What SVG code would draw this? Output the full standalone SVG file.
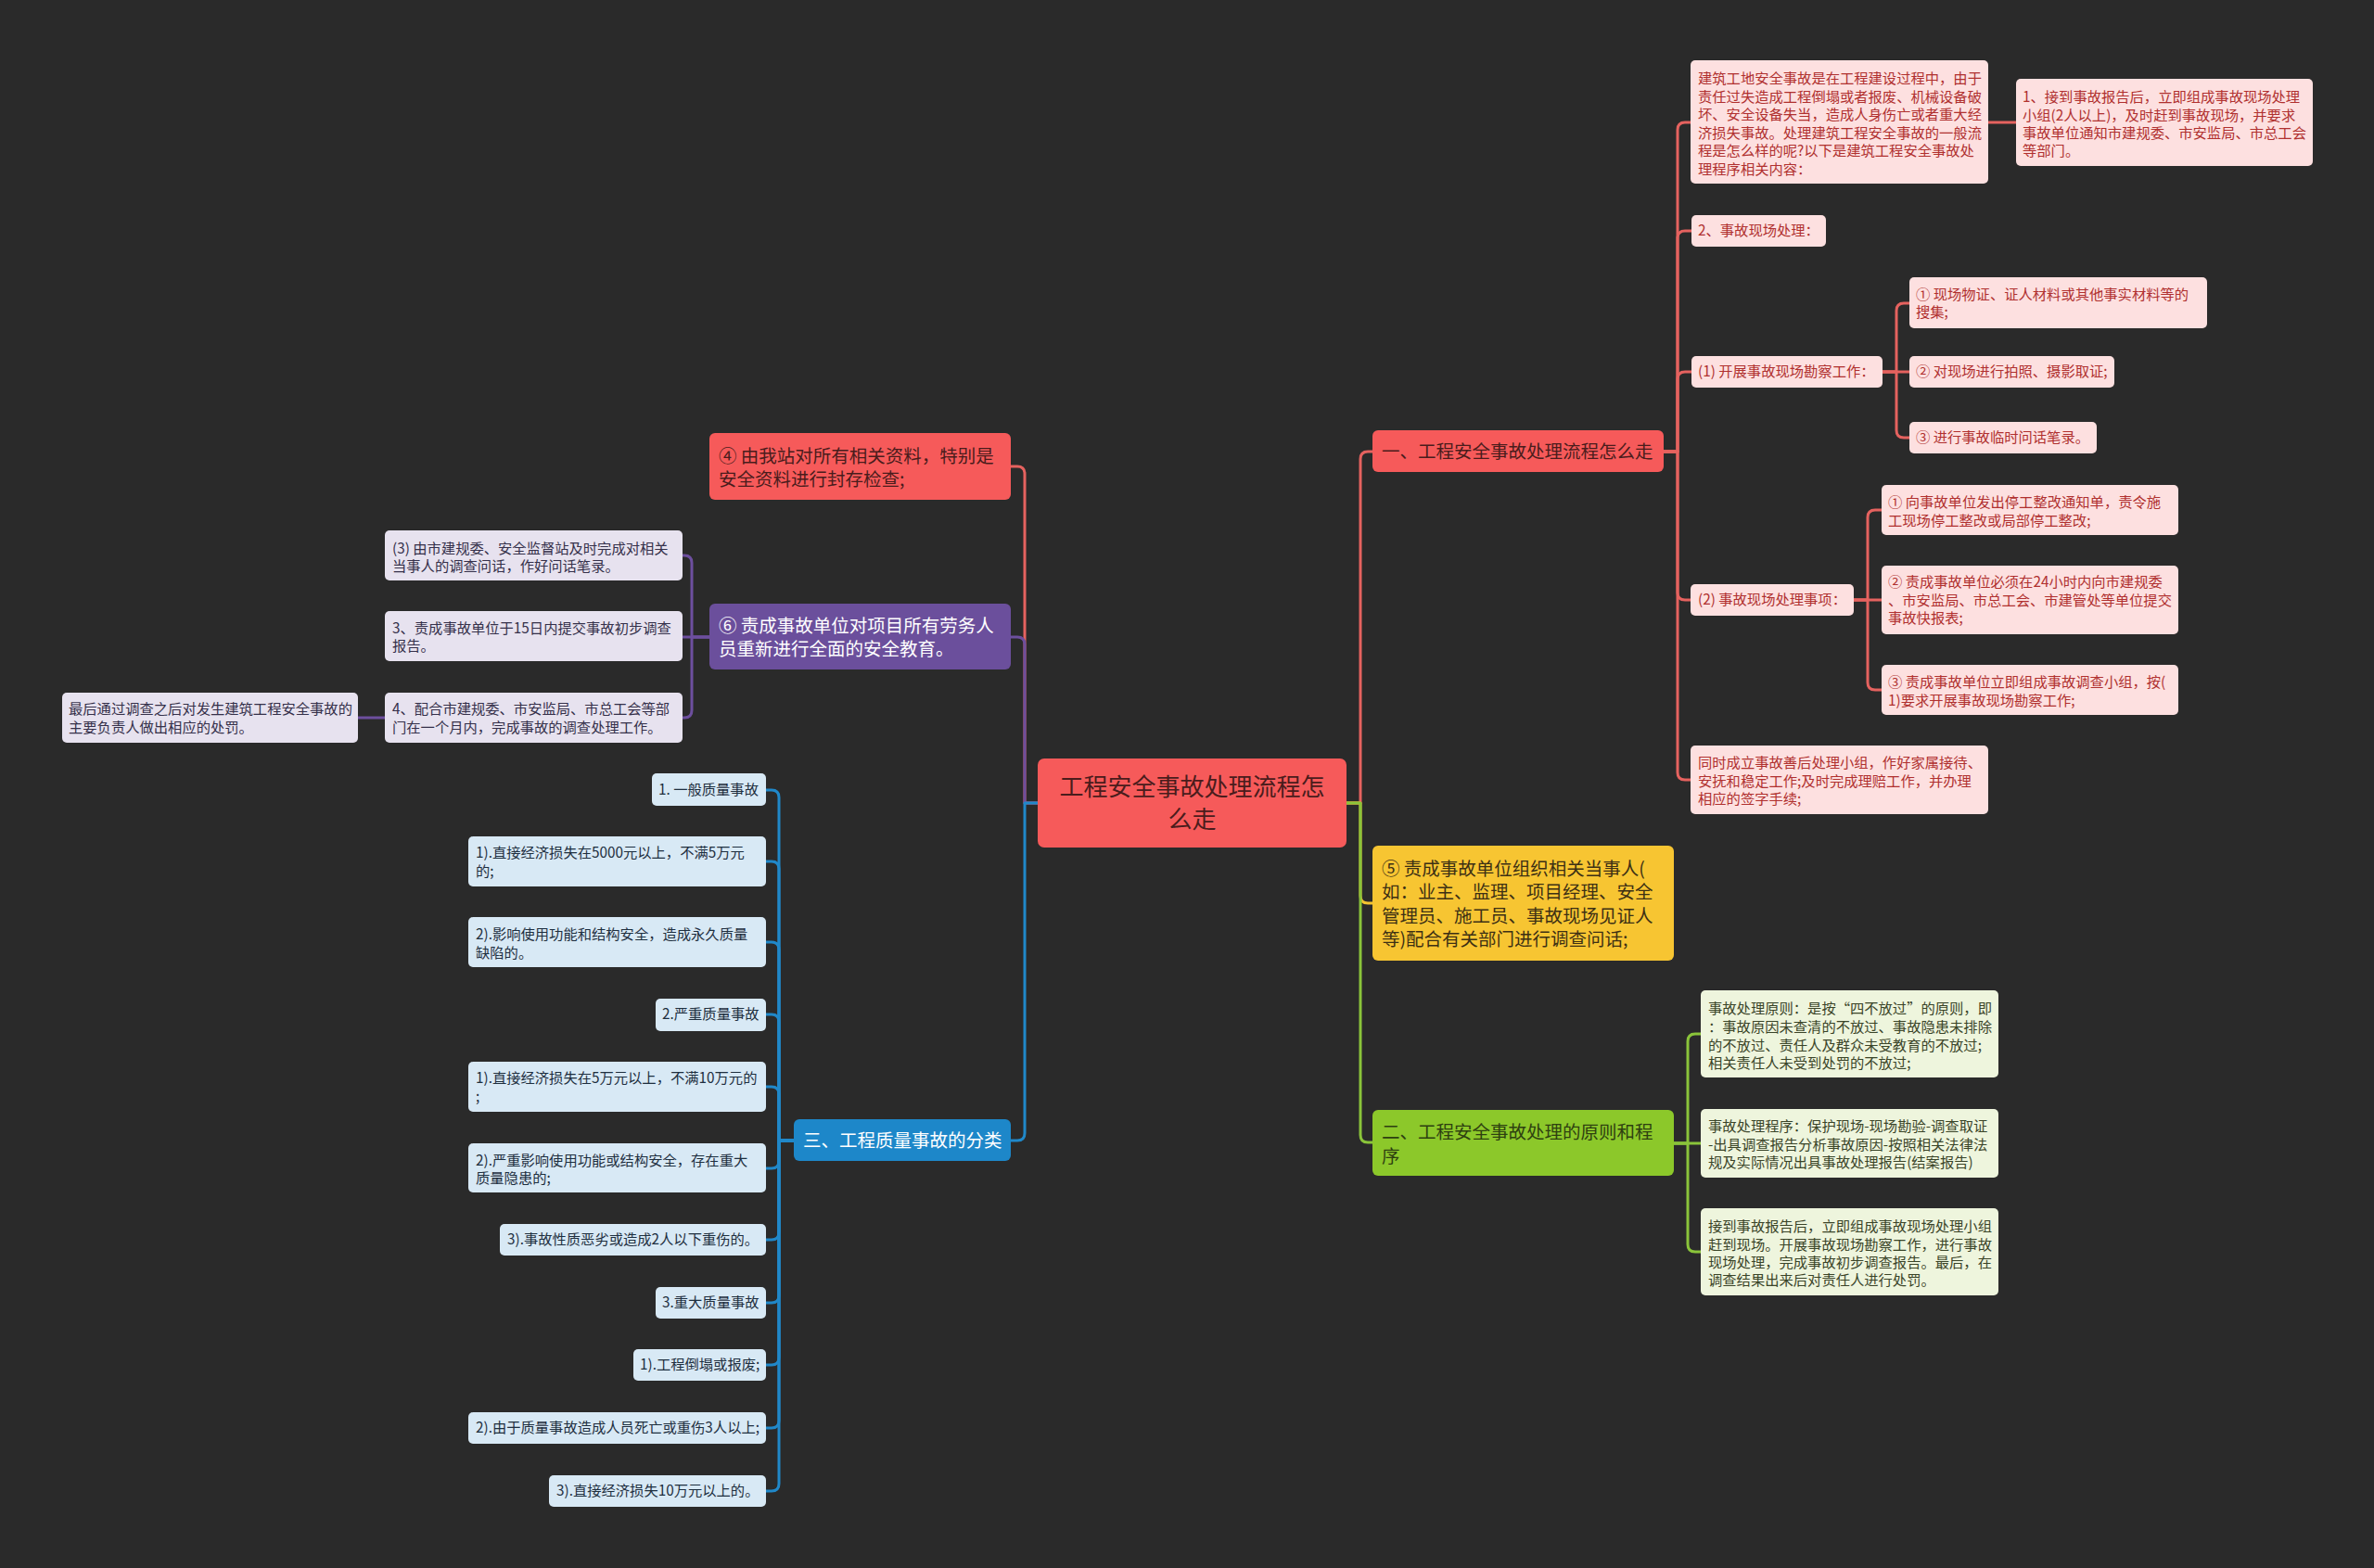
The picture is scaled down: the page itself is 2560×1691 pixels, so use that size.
<svg xmlns="http://www.w3.org/2000/svg" width="2560" height="1691" viewBox="0 0 2560 1691">
<style>
text{font-family:"Noto Sans CJK SC","Noto Sans",sans-serif;dominant-baseline:central;transform:translateY(-2px)}
.c{fill:none;stroke-width:3;stroke-linecap:round;stroke-linejoin:round}
.cr{stroke:#e5625f}.cp{stroke:#6d4f9e}.cb{stroke:#2088c9}.cg{stroke:#8ac43a}.cy{stroke:#f4c430}
.mr{fill:#f65a5a}.mp{fill:#6b4f9c}.mb{fill:#1d87c9}.mg{fill:#8cc82a}.my{fill:#f7c532}
.lr{fill:#fde0e0}.lp{fill:#e7e2ef}.lb{fill:#d8e9f5}.lg{fill:#eef5dd}
.tm{font-size:19.5px}.tl{font-size:15.3px}
.dk{fill:#4a1c1c}.wh{fill:#ffffff}.dy{fill:#3d3014}.dg{fill:#2e4010}
.tr{fill:#b0302f}.tp{fill:#35304a}.tb{fill:#1e2f3f}.tg{fill:#3a4428}
</style>
<rect x="0" y="0" width="2560" height="1691" fill="#2a2a2a"/>
<g id="connectors">
<path class="c cr" d="M1452,866 H1467 V495 Q1467,487 1475,487 H1480"/>
<path class="c cy" d="M1452,866 H1467 V966 Q1467,974 1475,974 H1480"/>
<path class="c cg" d="M1452,866 H1467 V1224 Q1467,1232 1475,1232 H1480"/>
<path class="c cr" d="M1794,487 H1809 V140 Q1809,132 1817,132 H1823"/>
<path class="c cr" d="M1794,487 H1809 V257 Q1809,249 1817,249 H1824"/>
<path class="c cr" d="M1794,487 H1809 V409 Q1809,401 1817,401 H1824"/>
<path class="c cr" d="M1794,487 H1809 V639 Q1809,647 1817,647 H1823"/>
<path class="c cr" d="M1794,487 H1809 V833 Q1809,841 1817,841 H1823"/>
<path class="c cr" d="M2144,132 H2174"/>
<path class="c cr" d="M2030,401 H2045 V335 Q2045,327 2053,327 H2059"/>
<path class="c cr" d="M2030,401 H2059"/>
<path class="c cr" d="M2030,401 H2045 V464 Q2045,472 2053,472 H2059"/>
<path class="c cr" d="M1999,647 H2014 V558 Q2014,550 2022,550 H2029"/>
<path class="c cr" d="M1999,647 H2029"/>
<path class="c cr" d="M1999,647 H2014 V736 Q2014,744 2022,744 H2029"/>
<path class="c cg" d="M1805,1233 H1820 V1123 Q1820,1115 1828,1115 H1834"/>
<path class="c cg" d="M1805,1233 H1834"/>
<path class="c cg" d="M1805,1233 H1820 V1342 Q1820,1350 1828,1350 H1834"/>
<path class="c cr" d="M1119,866 H1105 V511 Q1105,503 1097,503 H1090"/>
<path class="c cp" d="M1119,866 H1105 V695 Q1105,687 1097,687 H1090"/>
<path class="c cb" d="M1119,866 H1105 V1222 Q1105,1230 1097,1230 H1090"/>
<path class="c cp" d="M765,687 H746 V607 Q746,599 738,599 H736"/>
<path class="c cp" d="M765,687 H736"/>
<path class="c cp" d="M765,687 H746 V766 Q746,774 738,774 H736"/>
<path class="c cp" d="M415,774 H386"/>
<path class="c cb" d="M856,1230 H840 V860 Q840,852 832,852 H826"/>
<path class="c cb" d="M856,1230 H840 V937 Q840,929 832,929 H826"/>
<path class="c cb" d="M856,1230 H840 V1024 Q840,1016 832,1016 H826"/>
<path class="c cb" d="M856,1230 H840 V1102 Q840,1094 832,1094 H826"/>
<path class="c cb" d="M856,1230 H840 V1180 Q840,1172 832,1172 H826"/>
<path class="c cb" d="M856,1230 H840 V1252 Q840,1260 832,1260 H826"/>
<path class="c cb" d="M856,1230 H840 V1329 Q840,1337 832,1337 H826"/>
<path class="c cb" d="M856,1230 H840 V1397 Q840,1405 832,1405 H826"/>
<path class="c cb" d="M856,1230 H840 V1464 Q840,1472 832,1472 H826"/>
<path class="c cb" d="M856,1230 H840 V1532 Q840,1540 832,1540 H826"/>
<path class="c cb" d="M856,1230 H840 V1600 Q840,1608 832,1608 H826"/>
</g>
<g id="root">
<rect class="mr" x="1119" y="818" width="333" height="96" rx="7"/>
<text x="1285.5" y="848" font-size="26" text-anchor="middle" class="dk">工程安全事故处理流程怎</text>
<text x="1285.5" y="883" font-size="26" text-anchor="middle" class="dk">么走</text>
</g>
<g id="n1">
<rect class="mr" x="1480" y="464" width="314" height="45" rx="6"/>
<text class="tm dk" x="1490" y="487">一、工程安全事故处理流程怎么走</text>
</g>
<g id="n5">
<rect class="my" x="1480" y="912" width="325" height="124" rx="6"/>
<text class="tm dy" x="1490" y="937">⑤ 责成事故单位组织相关当事人(</text>
<text class="tm dy" x="1490" y="962">如：业主、监理、项目经理、安全</text>
<text class="tm dy" x="1490" y="988">管理员、施工员、事故现场见证人</text>
<text class="tm dy" x="1490" y="1013">等)配合有关部门进行调查问话;</text>
</g>
<g id="n2">
<rect class="mg" x="1480" y="1197" width="325" height="71" rx="6"/>
<text class="tm dg" x="1490" y="1221">二、工程安全事故处理的原则和程</text>
<text class="tm dg" x="1490" y="1247">序</text>
</g>
<g id="n4">
<rect class="mr" x="765" y="467" width="325" height="72" rx="6"/>
<text class="tm dk" x="775" y="492">④ 由我站对所有相关资料，特别是</text>
<text class="tm dk" x="775" y="517">安全资料进行封存检查;</text>
</g>
<g id="n6">
<rect class="mp" x="765" y="651" width="325" height="71" rx="6"/>
<text class="tm wh" x="775" y="675">⑥ 责成事故单位对项目所有劳务人</text>
<text class="tm wh" x="775" y="700">员重新进行全面的安全教育。</text>
</g>
<g id="n3">
<rect class="mb" x="856" y="1207" width="234" height="45" rx="6"/>
<text class="tm wh" x="866" y="1230">三、工程质量事故的分类</text>
</g>
<g id="r-intro">
<rect class="lr" x="1823" y="65" width="321" height="133" rx="5"/>
<text class="tl tr" x="1831" y="85">建筑工地安全事故是在工程建设过程中，由于</text>
<text class="tl tr" x="1831" y="105">责任过失造成工程倒塌或者报废、机械设备破</text>
<text class="tl tr" x="1831" y="124">坏、安全设备失当，造成人身伤亡或者重大经</text>
<text class="tl tr" x="1831" y="144">济损失事故。处理建筑工程安全事故的一般流</text>
<text class="tl tr" x="1831" y="163">程是怎么样的呢?以下是建筑工程安全事故处</text>
<text class="tl tr" x="1831" y="183">理程序相关内容：</text>
</g>
<g id="r-step1">
<rect class="lr" x="2174" y="85" width="320" height="94" rx="5"/>
<text class="tl tr" x="2181" y="105">1、接到事故报告后，立即组成事故现场处理</text>
<text class="tl tr" x="2181" y="125">小组(2人以上)，及时赶到事故现场，并要求</text>
<text class="tl tr" x="2181" y="144">事故单位通知市建规委、市安监局、市总工会</text>
<text class="tl tr" x="2181" y="163">等部门。</text>
</g>
<g id="r-step2">
<rect class="lr" x="1824" y="232" width="145" height="34" rx="5"/>
<text class="tl tr" x="1831" y="249">2、事故现场处理：</text>
</g>
<g id="r-s1">
<rect class="lr" x="1824" y="384" width="206" height="34" rx="5"/>
<text class="tl tr" x="1831" y="401">(1) 开展事故现场勘察工作：</text>
</g>
<g id="r-s1a">
<rect class="lr" x="2059" y="299" width="321" height="55" rx="5"/>
<text class="tl tr" x="2066" y="318">① 现场物证、证人材料或其他事实材料等的</text>
<text class="tl tr" x="2066" y="337">搜集;</text>
</g>
<g id="r-s1b">
<rect class="lr" x="2059" y="384" width="221" height="34" rx="5"/>
<text class="tl tr" x="2066" y="401">② 对现场进行拍照、摄影取证;</text>
</g>
<g id="r-s1c">
<rect class="lr" x="2059" y="455" width="202" height="34" rx="5"/>
<text class="tl tr" x="2066" y="472">③ 进行事故临时问话笔录。</text>
</g>
<g id="r-s2">
<rect class="lr" x="1823" y="630" width="176" height="34" rx="5"/>
<text class="tl tr" x="1831" y="647">(2) 事故现场处理事项：</text>
</g>
<g id="r-s2a">
<rect class="lr" x="2029" y="523" width="320" height="54" rx="5"/>
<text class="tl tr" x="2036" y="542">① 向事故单位发出停工整改通知单，责令施</text>
<text class="tl tr" x="2036" y="562">工现场停工整改或局部停工整改;</text>
</g>
<g id="r-s2b">
<rect class="lr" x="2029" y="610" width="320" height="74" rx="5"/>
<text class="tl tr" x="2036" y="628">② 责成事故单位必须在24小时内向市建规委</text>
<text class="tl tr" x="2036" y="648">、市安监局、市总工会、市建管处等单位提交</text>
<text class="tl tr" x="2036" y="667">事故快报表;</text>
</g>
<g id="r-s2c">
<rect class="lr" x="2029" y="717" width="320" height="54" rx="5"/>
<text class="tl tr" x="2036" y="736">③ 责成事故单位立即组成事故调查小组，按(</text>
<text class="tl tr" x="2036" y="756">1)要求开展事故现场勘察工作;</text>
</g>
<g id="r-after">
<rect class="lr" x="1823" y="804" width="321" height="74" rx="5"/>
<text class="tl tr" x="1831" y="823">同时成立事故善后处理小组，作好家属接待、</text>
<text class="tl tr" x="1831" y="843">安抚和稳定工作;及时完成理赔工作，并办理</text>
<text class="tl tr" x="1831" y="862">相应的签字手续;</text>
</g>
<g id="g-principle">
<rect class="lg" x="1834" y="1068" width="321" height="94" rx="5"/>
<text class="tl tg" x="1842" y="1088">事故处理原则：是按“四不放过”的原则，即</text>
<text class="tl tg" x="1842" y="1108">：事故原因未查清的不放过、事故隐患未排除</text>
<text class="tl tg" x="1842" y="1128">的不放过、责任人及群众未受教育的不放过;</text>
<text class="tl tg" x="1842" y="1147">相关责任人未受到处罚的不放过;</text>
</g>
<g id="g-procedure">
<rect class="lg" x="1834" y="1196" width="321" height="74" rx="5"/>
<text class="tl tg" x="1842" y="1215">事故处理程序：保护现场-现场勘验-调查取证</text>
<text class="tl tg" x="1842" y="1235">-出具调查报告分析事故原因-按照相关法律法</text>
<text class="tl tg" x="1842" y="1254">规及实际情况出具事故处理报告(结案报告)</text>
</g>
<g id="g-report">
<rect class="lg" x="1834" y="1303" width="321" height="94" rx="5"/>
<text class="tl tg" x="1842" y="1323">接到事故报告后，立即组成事故现场处理小组</text>
<text class="tl tg" x="1842" y="1343">赶到现场。开展事故现场勘察工作，进行事故</text>
<text class="tl tg" x="1842" y="1362">现场处理，完成事故初步调查报告。最后，在</text>
<text class="tl tg" x="1842" y="1381">调查结果出来后对责任人进行处罚。</text>
</g>
<g id="p-3">
<rect class="lp" x="415" y="572" width="321" height="54" rx="5"/>
<text class="tl tp" x="423" y="592">(3) 由市建规委、安全监督站及时完成对相关</text>
<text class="tl tp" x="423" y="611">当事人的调查问话，作好问话笔录。</text>
</g>
<g id="p-15">
<rect class="lp" x="415" y="659" width="321" height="54" rx="5"/>
<text class="tl tp" x="423" y="678">3、责成事故单位于15日内提交事故初步调查</text>
<text class="tl tp" x="423" y="697">报告。</text>
</g>
<g id="p-4">
<rect class="lp" x="415" y="747" width="321" height="54" rx="5"/>
<text class="tl tp" x="423" y="765">4、配合市建规委、市安监局、市总工会等部</text>
<text class="tl tp" x="423" y="785">门在一个月内，完成事故的调查处理工作。</text>
</g>
<g id="p-final">
<rect class="lp" x="67" y="747" width="319" height="54" rx="5"/>
<text class="tl tp" x="74" y="765">最后通过调查之后对发生建筑工程安全事故的</text>
<text class="tl tp" x="74" y="785">主要负责人做出相应的处罚。</text>
</g>
<g id="b-1">
<rect class="lb" x="703" y="834" width="123" height="35" rx="5"/>
<text class="tl tb" x="710" y="852">1. 一般质量事故</text>
</g>
<g id="b-1a">
<rect class="lb" x="505" y="902" width="321" height="54" rx="5"/>
<text class="tl tb" x="513" y="920">1).直接经济损失在5000元以上，不满5万元</text>
<text class="tl tb" x="513" y="940">的;</text>
</g>
<g id="b-1b">
<rect class="lb" x="505" y="989" width="321" height="54" rx="5"/>
<text class="tl tb" x="513" y="1008">2).影响使用功能和结构安全，造成永久质量</text>
<text class="tl tb" x="513" y="1028">缺陷的。</text>
</g>
<g id="b-2">
<rect class="lb" x="707" y="1077" width="119" height="35" rx="5"/>
<text class="tl tb" x="714" y="1094">2.严重质量事故</text>
</g>
<g id="b-2a">
<rect class="lb" x="505" y="1145" width="321" height="54" rx="5"/>
<text class="tl tb" x="513" y="1163">1).直接经济损失在5万元以上，不满10万元的</text>
<text class="tl tb" x="513" y="1183">;</text>
</g>
<g id="b-2b">
<rect class="lb" x="505" y="1233" width="321" height="53" rx="5"/>
<text class="tl tb" x="513" y="1252">2).严重影响使用功能或结构安全，存在重大</text>
<text class="tl tb" x="513" y="1271">质量隐患的;</text>
</g>
<g id="b-2c">
<rect class="lb" x="539" y="1320" width="287" height="34" rx="5"/>
<text class="tl tb" x="547" y="1337">3).事故性质恶劣或造成2人以下重伤的。</text>
</g>
<g id="b-3">
<rect class="lb" x="707" y="1388" width="119" height="34" rx="5"/>
<text class="tl tb" x="714" y="1405">3.重大质量事故</text>
</g>
<g id="b-3a">
<rect class="lb" x="683" y="1455" width="143" height="34" rx="5"/>
<text class="tl tb" x="690" y="1472">1).工程倒塌或报废;</text>
</g>
<g id="b-3b">
<rect class="lb" x="505" y="1523" width="321" height="34" rx="5"/>
<text class="tl tb" x="513" y="1540">2).由于质量事故造成人员死亡或重伤3人以上;</text>
</g>
<g id="b-3c">
<rect class="lb" x="592" y="1591" width="234" height="34" rx="5"/>
<text class="tl tb" x="600" y="1608">3).直接经济损失10万元以上的。</text>
</g>
</svg>
